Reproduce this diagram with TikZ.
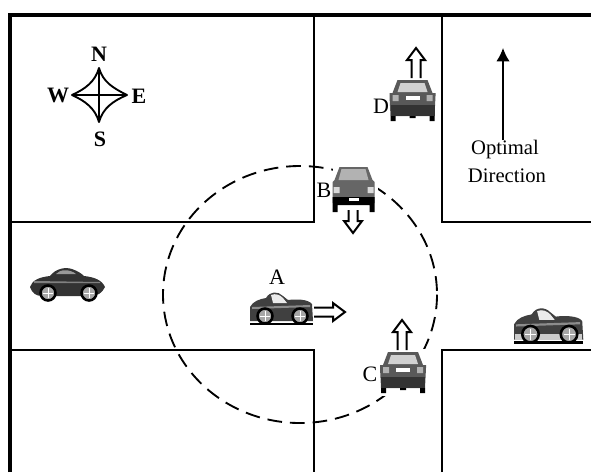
\documentclass[tikz,border=0pt]{standalone}
\usepackage{fontspec}
\usetikzlibrary{arrows.meta}
\setmainfont{Liberation Serif}

\tikzset{
	wall/.style = {line width = 1.5pt},
	border/.style = {line width = 3pt},
	label/.style = {font = \fontsize{16.5}{18}\selectfont, inner sep = 0pt},
	compass/.style = {font = \fontsize{16.5}{18}\selectfont\bfseries, inner sep = 0pt},
	wheel/.style = {draw = black, line width = 1.9pt, fill = black!35},
	pics/hollow/.style = {code = {
		\filldraw [fill = white, draw = black, line width = 1.5pt] (0, -4.5) -- (#1 - 12, -4.5) -- (#1 - 12, -9) -- (#1, 0) -- (#1 - 12, 9) -- (#1 - 12, 4.5) -- (0, 4.5);
	}},
	pics/roadster/.style = {code = {
		\fill [white] (-1, 2) rectangle (65, -34);
		\fill [black!75] (0, -3) -- (0, -17) .. controls (3, -23) and (10, -25) .. (16, -26) .. controls (20, -33) and (28, -33) .. (33, -28) -- (38, -24) .. controls (46, -25) and (58, -25) .. (62, -20) -- (63, -3) -- cycle;
		\fill [#1] (1, -8) rectangle (62, -3);
		\fill [black!8] (21, -29) .. controls (26, -31) and (30, -29) .. (33, -26) -- (37, -21) -- (23, -21) -- cycle;
		\fill [black!45] (2, -17) -- (60, -19) -- (60, -17) -- (2, -15) -- cycle;
		\fill [black] (0, -1.5) rectangle (63, 1);
		\draw [wheel] (15, -8) circle [radius = 7.5];
		\draw [wheel] (50, -8) circle [radius = 7.5];
		\draw [white] (15, -13) -- (15, -3) (10, -8) -- (20, -8) (50, -13) -- (50, -3) (45, -8) -- (55, -8);
	}},
	pics/beetle/.style = {code = {
		\fill [black!80] (0, -15) .. controls (2, -22) and (10, -25) .. (20, -26) .. controls (26, -34) and (36, -35) .. (42, -33) .. controls (48, -31) and (52, -28) .. (54, -26) .. controls (64, -25) and (72, -22) .. (75, -15) .. controls (72, -9) and (68, -6) .. (60, -6) -- (12, -6) .. controls (6, -6) and (2, -9) .. (0, -15) -- cycle;
		\fill [black!40] (26, -28) .. controls (30, -33) and (40, -33) .. (46, -28) -- cycle;
		\fill [black!50] (4, -21) -- (70, -20) -- (70, -19) -- (4, -19) -- cycle;
		\draw [wheel] (18, -9) circle [radius = 7.5];
		\draw [wheel] (59, -9) circle [radius = 7.5];
		\draw [white] (18, -14) -- (18, -4) (13, -9) -- (23, -9) (59, -14) -- (59, -4) (54, -9) -- (64, -9);
	}},
	pics/rearcar/.style = {code = {
		\fill [white] (-25, -3) rectangle (25, 44);
		\fill [black!65] (-15, 0) -- (15, 0) -- (20, 13) -- (23, 13) -- (23, 16) -- (22, 36) -- (-22, 36) -- (-23, 16) -- (-23, 13) -- (-20, 13) -- cycle;
		\fill [black!18] (-12, 3) -- (12, 3) -- (15, 12) -- (-15, 12) -- cycle;
		\fill [black!80] (-22, 25) rectangle (22, 36);
		\fill [white] (-7, 16) rectangle (7, 20);
		\fill [black!30] (-20, 15) rectangle (-14, 21) (14, 15) rectangle (20, 21);
		\fill [black] (-22, 36) rectangle (-17, 41) (17, 36) rectangle (22, 41) (-3, 36) rectangle (3, 38);
	}},
	pics/frontcar/.style = {code = {
		\fill [white] (-21, -4) rectangle (24, 47);
		\fill [black!60] (-14, 0) -- (14, 0) -- (19, 13) -- (21, 15) -- (21, 36) -- (-21, 36) -- (-21, 15) -- (-19, 13) -- cycle;
		\fill [black!30] (-12, 2) -- (12, 2) -- (15, 13) -- (-15, 13) -- cycle;
		\fill [black!15] (-20, 20) rectangle (-14, 26) (14, 20) rectangle (20, 26);
		\fill [black] (-21, 30) rectangle (21, 38) (-21, 38) rectangle (-16, 45) (16, 38) rectangle (21, 45);
		\fill [white] (-5, 31) rectangle (5, 34);
	}}
}

\begin{document}
\begin{tikzpicture}[x = 0.75pt, y = -0.75pt]

	\useasboundingbox (0, 0) rectangle (591, 472);

	% Outer border

	\draw [border] (10, 472) -- (10, 15) -- (591, 15);

	% City blocks

	\draw [wall] (10, 222) -- (314, 222) -- (314, 15);
	\draw [wall] (442, 15) -- (442, 222) -- (591, 222);
	\draw [wall] (10, 350) -- (314, 350) -- (314, 472);
	\draw [wall] (442, 472) -- (442, 350) -- (591, 350);

	% Range of car A

	\draw [line width = 1.4pt, dash pattern = on 11pt off 6pt] (300, 294.5) ellipse [x radius = 137, y radius = 128.5];

	% Compass

	\draw [line width = 1.4pt, line join = round] (99, 68) .. controls (103, 82) and (113, 88) .. (127, 95) .. controls (113, 101) and (103, 108) .. (99, 122) .. controls (95, 108) and (85, 101) .. (72, 95) .. controls (85, 89) and (95, 82) .. (99, 68) -- cycle;
	\draw [line width = 1pt] (99, 68) -- (99, 122) (72, 95) -- (127, 95);
	\node [compass] (north) at (99, 54) {N};
	\node [compass] (south) at (100, 139) {S};
	\node [compass] (west) at (58, 95) {W};
	\node [compass] (east) at (139, 96) {E};

	% Cars

	\pic at (250, 324) {roadster = black!75};
	\pic at (30, 302) {beetle};
	\pic [scale = 1.1] at (514, 343) {roadster = black!20};
	\pic at (412.5, 80) {rearcar};
	\pic at (403, 352) {rearcar};
	\pic at (353.5, 167) {frontcar};

	% Moving directions

	\pic at (314, 312) {hollow = 31};
	\pic [rotate = -90] at (353, 210) {hollow = 23};
	\pic [rotate = 90] at (402, 350) {hollow = 30};
	\pic [rotate = 90] at (416, 78) {hollow = 30};

	% Car names

	\node [label] (carA) at (277, 277) {A};
	\node [label] (carB) at (324, 190) {B};
	\node [label] (carC) at (370, 374) {C};
	\node [label] (carD) at (381, 106) {D};

	% Optimal direction

	\node [label, font = \fontsize{15.5}{18}\selectfont] (optimal) at (505, 150) {Optimal};
	\node [label, font = \fontsize{15.5}{18}\selectfont] (direction) at (507, 176) {Direction};
	\coordinate (optimaltip) at (503, 48);
	\coordinate (optimalfoot) at (503, 140);
	\draw [-{Latex[length = 10pt, width = 10pt]}, line width = 1pt] (optimalfoot) -- (optimaltip);

\end{tikzpicture}
\end{document}
